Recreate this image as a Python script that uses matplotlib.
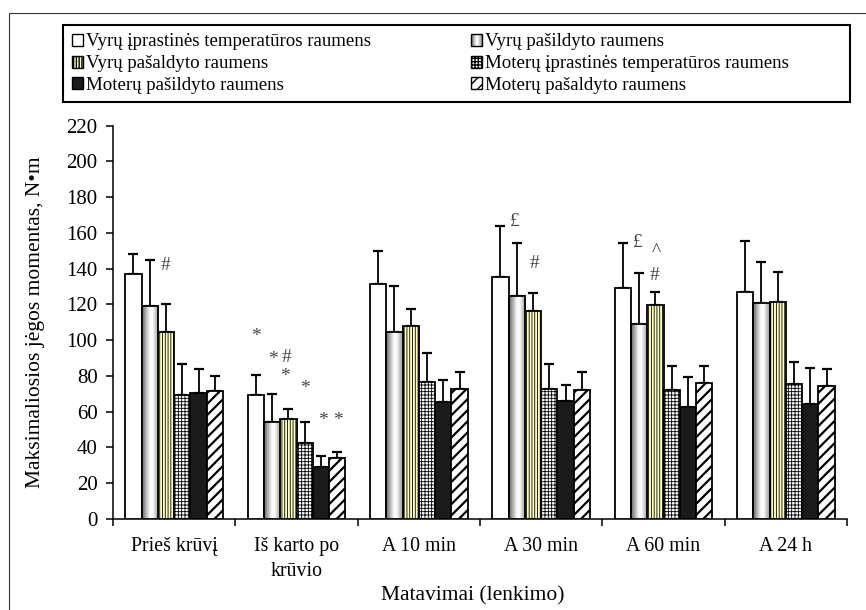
import numpy as np
import matplotlib
matplotlib.use('Agg')
import matplotlib.pyplot as plt
from matplotlib.patches import Patch, Rectangle
from matplotlib.legend_handler import HandlerBase

plt.rcParams['font.family'] = ['Liberation Serif', 'DejaVu Serif']
plt.rcParams['font.size'] = 14.3

# data
categories = ['Prieš krūvį', 'Iš karto po\nkrūvio', 'A 10 min', 'A 30 min', 'A 60 min', 'A 24 h']
series_names = ['Vyrų įprastinės temperatūros raumens',
                'Vyrų pašildyto raumens',
                'Vyrų pašaldyto raumens',
                'Moterų įprastinės temperatūros raumens',
                'Moterų pašildyto raumens',
                'Moterų pašaldyto raumens']

vyr_iprast = [136.8, 69.5, 131.7, 135.4, 129.0, 126.7]
vyr_pasild = [119.1, 54.0, 104.7, 124.7, 109.2, 120.9]
vyr_pasald = [104.7, 55.7, 108.0, 116.5, 119.6, 121.5]
mot_iprast = [69.3, 42.7, 76.8, 72.9, 72.3, 75.6]
mot_pasild = [70.6, 29.1, 65.2, 66.0, 62.6, 64.5]
mot_pasald = [71.5, 33.9, 72.7, 72.1, 75.8, 74.2]

vyr_iprast_sd = [11.7, 11.0, 18.3, 28.4, 25.5, 28.7]
vyr_pasild_sd = [25.7, 15.9, 25.9, 29.8, 28.5, 22.6]
vyr_pasald_sd = [15.5, 5.8, 9.2, 10.0, 7.4, 16.5]
mot_iprast_sd = [17.3, 11.5, 16.0, 13.6, 13.2, 12.4]
mot_pasild_sd = [13.2, 6.3, 12.3, 8.9, 17.0, 20.1]
mot_pasald_sd = [8.6, 3.7, 9.3, 10.1, 9.7, 9.8]

# significance marks: group, bar slot, value, symbol
mark_group = [0, 1, 1, 1, 1, 1, 1, 1, 3, 3, 4, 4, 4]
mark_slot = [2.0, 0.0, 1.04, 1.9, 1.79, 3.02, 4.1, 5.03, 0.88, 2.07, 0.92, 2.08, 1.96]
mark_value = [142, 102, 89, 90.5, 79.5, 73.2, 55.3, 55, 166.2, 143, 154.5, 149.4, 136.4]
mark_text = ['#', '*', '*', '#', '*', '*', '*', '*', '£', '#', '£', '^', '#']

means = [vyr_iprast, vyr_pasild, vyr_pasald, mot_iprast, mot_pasild, mot_pasald]
sds = [vyr_iprast_sd, vyr_pasild_sd, vyr_pasald_sd, mot_iprast_sd, mot_pasild_sd, mot_pasald_sd]

# style per series: facecolor, hatch, hatch linewidth
styles = [('white', None, 1.0),
          ('gradient', None, 1.0),
          ('#ffffc4', '||||||', 0.6),
          ('white', '+++++', 0.6),
          ('#1a1a1a', None, 1.0),
          ('white', '///', 1.6)]

grad_pos = [0.0, 0.45, 0.62, 1.0]
grad_val = [0.40, 0.97, 1.0, 0.58]


def grad_profile(t):
    return np.interp(t, grad_pos, grad_val)


class GradientHandler(HandlerBase):
    def create_artists(self, legend, orig_handle, xdescent, ydescent,
                       width, height, fontsize, trans):
        arts = []
        n = 12
        for i in range(n):
            g = float(grad_profile((i + 0.5) / n))
            arts.append(Rectangle((-xdescent + i * width / n, -ydescent), width / n, height,
                                  facecolor=(g, g, g), edgecolor='none', transform=trans))
        arts.append(Rectangle((-xdescent, -ydescent), width, height, facecolor='none',
                              edgecolor='black', lw=1.0, transform=trans))
        return arts


fig = plt.figure(figsize=(8.66, 6.1), dpi=100)
ax = fig.add_axes([113 / 866, 1 - 519 / 610, 734 / 866, 393.3 / 610])

nser = len(means)
bw = 0.8 / nser
x = np.arange(len(categories)) + 0.5

handles = []
for i in range(nser):
    fc, hatch, hlw = styles[i]
    xpos = x - 0.4 + bw * (i + 0.5)
    with plt.rc_context({'hatch.linewidth': hlw}):
        bars = ax.bar(xpos, means[i], bw, color='white' if fc == 'gradient' else fc,
                      edgecolor='black', linewidth=1.3, hatch=hatch, zorder=3)
    for b in bars:
        if hasattr(b, 'set_hatch_linewidth'):
            b.set_hatch_linewidth(hlw)
    if fc == 'gradient':
        prof = grad_profile(np.linspace(0, 1, 64))
        img = np.repeat(prof[None, :, None], 3, axis=2)
        for xp, h in zip(xpos, means[i]):
            ax.imshow(img, extent=(xp - bw / 2, xp + bw / 2, 0, h), aspect='auto',
                      zorder=3.5, interpolation='bilinear')
            ax.add_patch(Rectangle((xp - bw / 2, 0), bw, h, facecolor='none',
                                   edgecolor='black', linewidth=1.3, zorder=3.6))
        handles.append(Patch(facecolor='#cccccc', edgecolor='black', label=series_names[i]))
    else:
        with plt.rc_context({'hatch.linewidth': hlw}):
            handles.append(Patch(facecolor=fc, edgecolor='black', hatch=hatch,
                                 linewidth=1.0, label=series_names[i]))
    ax.errorbar(xpos, means[i], yerr=[np.zeros(len(x)), sds[i]], fmt='none',
                ecolor='black', elinewidth=1.3, capsize=3.5, capthick=1.6, zorder=2)

for g, s, v, t in zip(mark_group, mark_slot, mark_value, mark_text):
    ax.text(g + 0.1 + bw * (s + 0.5), v, t, ha='center', va='center',
            fontsize=14, color='#444444', zorder=5)

ax.set_xlim(0, len(categories))
ax.set_ylim(0, 220)
ax.set_yticks(np.arange(0, 221, 20))
ax.set_xticks(np.arange(0, len(categories) + 1))
ax.set_xticklabels([])
ax.set_xticks(x, minor=True)
ax.set_xticklabels(categories, minor=True, linespacing=1.45)
ax.tick_params(axis='x', which='major', direction='out', length=5, width=1.1)
ax.tick_params(axis='x', which='minor', length=0, pad=13)
ax.tick_params(axis='y', direction='out', length=5, width=1.1, pad=6, labelsize=15)
for sp in ['top', 'right']:
    ax.spines[sp].set_visible(False)
for sp in ['left', 'bottom']:
    ax.spines[sp].set_linewidth(1.1)

ax.set_ylabel('Maksimaliosios jėgos momentas, N•m', fontsize=15.5)
ax.yaxis.set_label_coords(-0.093, 0.5)
ax.set_xlabel('Matavimai (lenkimo)', fontsize=15.5)
ax.xaxis.set_label_coords(0.49, -0.172)

order = [0, 2, 4, 1, 3, 5]
leg = fig.legend([handles[k] for k in order], [series_names[k] for k in order],
                 ncol=2, loc='upper left',
                 bbox_to_anchor=(63 / 866, 1 - 25 / 610),
                 borderaxespad=0, frameon=False,
                 handlelength=0.6, handleheight=0.6, handletextpad=0.15,
                 labelspacing=0.25, borderpad=0.45, columnspacing=5.3, fontsize=13.6,
                 handler_map={handles[1]: GradientHandler()})

# legend box and outer frame around the whole chart
fig.add_artist(Rectangle((63 / 866, 1 - 102 / 610), 787 / 866, 77 / 610, fill=False,
                         edgecolor='black', linewidth=1.5, transform=fig.transFigure))
fig.add_artist(Rectangle((9 / 866, -0.1), 1.2, 1.1 - 13 / 610, fill=False,
                         edgecolor='#333333', linewidth=0.8, transform=fig.transFigure))

fig.savefig('out.png', dpi=100)
